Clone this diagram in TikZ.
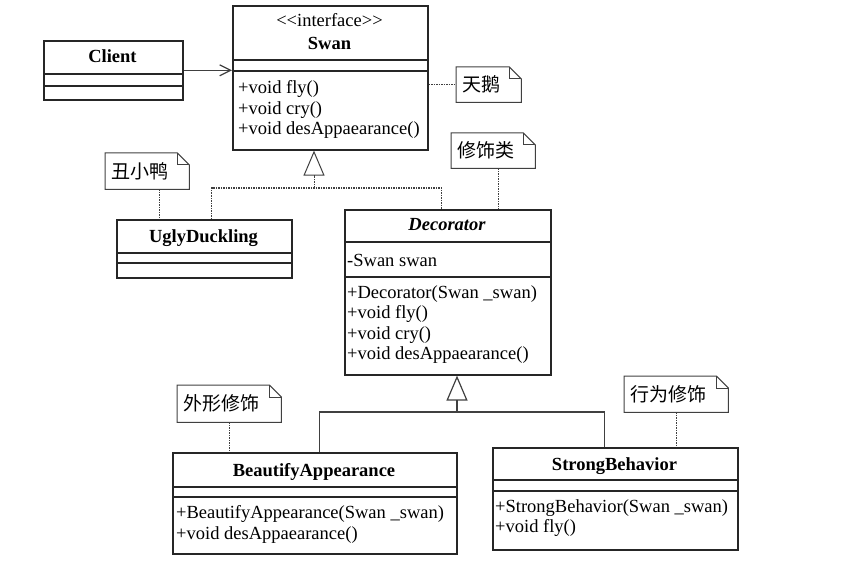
\documentclass[tikz,border=0pt]{standalone}
\usepackage{fontspec}
\setmainfont{Liberation Serif}
\newfontfamily\cjk{Noto Sans CJK SC}
\usetikzlibrary{arrows.meta,positioning}

\newcommand\umlsize{\fontsize{18.5}{20.5}\selectfont}
\newcommand\notesize{\fontsize{19}{21}\selectfont}

% separator line inside a class box
\newcommand\divider[2]{\draw[rule] ([yshift=-#2]#1.north west) -- ([yshift=-#2]#1.north east);}

% outline of a note with folded corner
\newcommand\drawnote[1]{%
  \draw[notepen] (#1.north west) -- ([xshift=-12pt]#1.north east) -- ([yshift=-12pt]#1.north east)
    -- (#1.south east) -- (#1.south west) -- cycle;
  \draw[notepen] ([xshift=-12pt]#1.north east) |- ([yshift=-12pt]#1.north east);}

\begin{document}
\begin{tikzpicture}[
    x=1pt, y=-1pt,
    cls/.style={draw=black!85, line width=1.6pt, inner sep=0pt, anchor=north west},
    rule/.style={draw=black!85, line width=1.4pt},
    member/.style={anchor=base west, inner sep=0pt, font=\umlsize},
    title/.style={anchor=base, inner sep=0pt, font=\umlsize\bfseries},
    note/.style={anchor=north west, inner xsep=6pt, inner ysep=0pt, minimum height=35pt,
                 text width=#1, align=left, font=\cjk\notesize},
    notepen/.style={draw=black!75, line width=1pt},
    link/.style={draw=black!75, line width=1pt, dash pattern=on 1.5pt off 1pt},
    gen/.style={draw=black!75, line width=1.2pt},
    hollow/.style={-{Triangle[open,length=25pt,width=21pt]}}
]
\useasboundingbox (0,0) rectangle (849,567);

% Class boxes
\node[cls, minimum width=139pt, minimum height=59pt] (client) at (43,40) {};
\node[cls, minimum width=195pt, minimum height=144pt] (swan) at (232,5) {};
\node[cls, minimum width=175pt, minimum height=58pt] (ugly) at (116,219) {};
\node[cls, minimum width=206pt, minimum height=165pt] (deco) at (344,209) {};
\node[cls, minimum width=284pt, minimum height=101pt] (beauty) at (172,452) {};
\node[cls, minimum width=245pt, minimum height=102pt] (strong) at (492,447) {};

% Compartments
\divider{client}{34pt} \divider{client}{46pt}
\divider{swan}{55pt} \divider{swan}{66pt}
\divider{ugly}{34pt} \divider{ugly}{44pt}
\divider{deco}{33pt} \divider{deco}{68pt}
\divider{beauty}{35pt} \divider{beauty}{45pt}
\divider{strong}{33pt} \divider{strong}{44pt}

% Class names
\node[title] (clientName) at (112.5,63) {Client};
\node[title, font=\umlsize] (swanStereo) at (329.5,27) {<\kern0pt<interface>\kern0pt>};
\node[title] (swanName) at (329.5,50) {Swan};
\node[title] (uglyName) at (203.5,242) {UglyDuckling};
\node[title, font=\umlsize\bfseries\itshape] (decoName) at (447,230) {Decorator};
\node[title] (beautyName) at (314,476) {BeautifyAppearance};
\node[title] (strongName) at (614.5,470) {StrongBehavior};

% Members
\node[member] (swanM1) at (238,94) {+void fly()};
\node[member] (swanM2) at (238,114.5) {+void cry()};
\node[member] (swanM3) at (238,135) {+void desAppaearance()};

\node[member] (decoA1) at (347,266) {-Swan swan};
\node[member] (decoM1) at (347,298) {+Decorator(Swan \_swan)};
\node[member] (decoM2) at (347,318.5) {+void fly()};
\node[member] (decoM3) at (347,339) {+void cry()};
\node[member] (decoM4) at (347,359.5) {+void desAppaearance()};

\node[member] (beautyM1) at (176,518) {+BeautifyAppearance(Swan \_swan)};
\node[member] (beautyM2) at (176,539) {+void desAppaearance()};

\node[member] (strongM1) at (495,512) {+StrongBehavior(Swan \_swan)};
\node[member] (strongM2) at (495,532.5) {+void fly()};

% Notes
\node[note=53pt] (swanNote) at (456,67) {天鹅};
\node[note=72pt] (decoNote) at (451,133) {修饰类};
\node[note=72pt, minimum height=36pt] (uglyNote) at (105,153) {丑小鸭};
\node[note=92pt, minimum height=37pt] (beautyNote) at (177,385) {外形修饰};
\node[note=92pt, minimum height=36pt] (strongNote) at (624,376) {行为修饰};
\drawnote{swanNote} \drawnote{decoNote} \drawnote{uglyNote}
\drawnote{beautyNote} \drawnote{strongNote}

% Note links
\draw[link] (swan.east |- swanNote.west) -- (swanNote.west);
\coordinate (decoLink) at ([xshift=5pt]decoNote.south);
\draw[link] (decoLink) -- (decoLink |- deco.north);
\coordinate (uglyLink) at ([xshift=12pt]uglyNote.south);
\draw[link] (uglyLink) -- (uglyLink |- ugly.north);
\draw[link] (beautyNote.south) -- (beautyNote.south |- beauty.north);
\draw[link] (strongNote.south) -- (strongNote.south |- strong.north);

% Client uses Swan
\draw[gen, -{Straight Barb[length=11pt,width=11pt]}] (client.east) -- (client.east -| swan.west);

% Realization of Swan
\coordinate (swanFork) at (314,188);
\draw[link] ([xshift=7.5pt]ugly.north) |- (swanFork) -| ([xshift=-6pt]deco.north);
\draw[link, hollow] (swanFork) -- (swanFork |- swan.south);

% Inheritance from Decorator
\coordinate (decoFork) at (457,412);
\draw[gen] ([xshift=5pt]beauty.north) |- (decoFork) -| ([xshift=-10.5pt]strong.north);
\draw[gen, hollow] (decoFork) -- (decoFork |- deco.south);

\end{tikzpicture}
\end{document}
